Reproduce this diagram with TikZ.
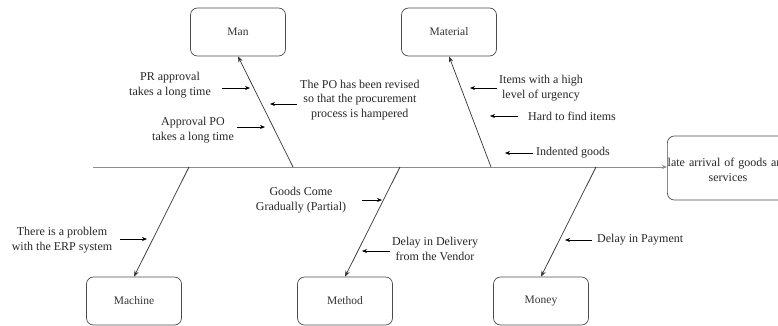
\documentclass[tikz,border=0pt]{standalone}
\usepackage{fontspec}
\setmainfont{Liberation Serif}
\usetikzlibrary{arrows.meta}
\begin{document}
\begin{tikzpicture}[x=1pt,y=-1pt,
  catbox/.style={draw=black!70,rounded corners=7pt,line width=0.7pt,minimum width=95pt,minimum height=48pt,inner sep=0pt,font=\fontsize{11.5}{13}\selectfont,text=black!80},
  lbl/.style={align=center,inner sep=0pt,font=\fontsize{12}{14.5}\selectfont,text=black!85},
  bone/.style={draw=black!80,line width=0.7pt,-{Stealth[length=6pt,width=4.5pt]}},
  sub/.style={draw=black,line width=0.7pt,-{Stealth[length=5pt,width=4pt]}}]
\useasboundingbox (0,0) rectangle (778,325);
% boxes
\node[catbox] (man) at (238,32) {Man};
\node[catbox] (material) at (449,32) {Material};
\node[catbox] (machine) at (134,301) {Machine};
\node[catbox] (method) at (345,301) {Method};
\node[catbox] (money) at (541,301) {Money};
\node[catbox,minimum width=122pt,minimum height=64pt,anchor=west] (effect) at (667,168) {};
\node[lbl,text width=170pt] (efftext) at (728,170) {late arrival of goods and\\services};
% spine
\coordinate (s0) at (93,167);
\draw[draw=black!45,line width=0.7pt,-{Stealth[length=5pt,width=4pt]}] (s0) -- (effect.west |- s0);
% bone start points
\coordinate (bman) at (293,167);
\coordinate (bmat) at (491,167);
\coordinate (bmac) at (189,167);
\coordinate (bmet) at (400,167);
\coordinate (bmon) at (596,167);
\draw[bone] (bman) -- (man.south);
\draw[bone] (bmat) -- (material.south);
\draw[bone] (bmac) -- (machine.north);
\draw[bone] (bmet) -- (method.north);
\draw[bone] (bmon) -- (money.north);
% Man causes
\node[lbl] (c1) at (170,85) {PR approval\\takes a long time};
\coordinate (c1a) at (222,88); \coordinate (c1b) at (250,88);
\draw[sub] (c1a) -- (c1b);
\node[lbl,anchor=west] (c2) at (300,100) {The PO has been revised\\so that the procurement\\process is hampered};
\coordinate (c2a) at (297,104); \coordinate (c2b) at (270,104);
\draw[sub] (c2a) -- (c2b);
\node[lbl] (c3) at (193,130) {Approval PO\\takes a long time};
\coordinate (c3a) at (237,127); \coordinate (c3b) at (265,127);
\draw[sub] (c3a) -- (c3b);
% Material causes
\node[lbl] (m1) at (541,88) {Items with a high\\level of urgency};
\coordinate (m1a) at (497,88); \coordinate (m1b) at (470,88);
\draw[sub] (m1a) -- (m1b);
\node[lbl,anchor=west] (m2) at (528,116) {Hard to find items};
\coordinate (m2a) at (518,116); \coordinate (m2b) at (490,116);
\draw[sub] (m2a) -- (m2b);
\node[lbl,anchor=west] (m3) at (536,153) {Indented goods};
\coordinate (m3a) at (533,153); \coordinate (m3b) at (505,153);
\draw[sub] (m3a) -- (m3b);
% Machine cause
\node[lbl] (k1) at (62,240) {There is a problem\\with the ERP system};
\coordinate (k1a) at (120,239); \coordinate (k1b) at (147,239);
\draw[sub] (k1a) -- (k1b);
% Method causes
\node[lbl] (d1) at (301,200) {Goods Come\\Gradually (Partial)};
\coordinate (d1a) at (362,200); \coordinate (d1b) at (382,200);
\draw[sub] (d1a) -- (d1b);
\node[lbl] (d2) at (435,249) {Delay in Delivery\\from the Vendor};
\coordinate (d2a) at (390,251); \coordinate (d2b) at (362,251);
\draw[sub] (d2a) -- (d2b);
% Money cause
\node[lbl,anchor=west] (y1) at (597,240) {Delay in Payment};
\coordinate (y1a) at (592,240); \coordinate (y1b) at (565,240);
\draw[sub] (y1a) -- (y1b);
\end{tikzpicture}
\end{document}
